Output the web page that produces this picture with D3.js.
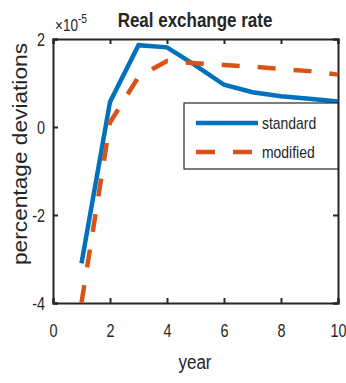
<!DOCTYPE html>
<html>
<head>
<meta charset="utf-8">
<script src="https://cdn.jsdelivr.net/npm/d3@7"></script>
<style>
  body { margin: 0; background: #fff; }
  text { font-family: "Liberation Sans", Arial, sans-serif; fill: #262626; }
</style>
</head>
<body>
<div class="chart"></div>
<script>
// data (values in units of 1e-5)
const years = [1, 2, 3, 4, 5, 6, 7, 8, 9, 10];
const standard = [-3.1, 0.57, 1.86, 1.81, 1.4, 0.96, 0.79, 0.7, 0.64, 0.58];
const modified = [-4.0, 0.1, 1.14, 1.5, 1.45, 1.41, 1.37, 1.32, 1.27, 1.19];
const xTicks = [0, 2, 4, 6, 8, 10];
const yTicks = [-4, -2, 0, 2];

// setup chart
const width = 346;
const height = 383;
const margin = { left: 53, right: 8, top: 39, bottom: 80 };
const svg = d3.select(".chart").append("svg").attr("width", width).attr("height", height);

const x = d3.scaleLinear().domain([0, 10]).range([margin.left, width - margin.right]);
const y = d3.scaleLinear().domain([-4, 2]).range([height - margin.bottom, margin.top]);

const axisColor = "#262626";

// squeeze horizontal text a bit (reference font is narrow)
function squash(sel, k) {
   sel.each(function () {
      const len = this.getComputedTextLength();
      d3.select(this).attr("textLength", len * k).attr("lengthAdjust", "spacingAndGlyphs");
   });
}

// axes (ticks inward)
const tick = -5;
const fmt = (d) => String(d);
svg.append("g").attr("transform", `translate(0,${y(-4)})`)
   .call(d3.axisBottom(x).tickValues(xTicks).tickSize(tick).tickFormat(fmt))
   .call(g => g.selectAll("text").attr("y", 34).attr("dy", 0));
svg.append("g").attr("transform", `translate(0,${y(2)})`)
   .call(d3.axisTop(x).tickValues(xTicks).tickSize(tick).tickFormat(""));
svg.append("g").attr("transform", `translate(${x(0)},0)`)
   .call(d3.axisLeft(y).tickValues(yTicks).tickSize(tick).tickPadding(8).tickFormat(fmt));
svg.append("g").attr("transform", `translate(${x(10)},0)`)
   .call(d3.axisRight(y).tickValues(yTicks).tickSize(tick).tickFormat(""));

svg.selectAll(".domain").attr("stroke", axisColor).attr("stroke-width", 2);
svg.selectAll(".tick line").attr("stroke", axisColor).attr("stroke-width", 2);
svg.selectAll(".tick text").style("font-size", "19px").attr("fill", axisColor)
   .call(squash, 0.76);

// lines
const line = d3.line().x((d, i) => x(years[i])).y(d => y(d));
const plot = svg.append("g");
plot.append("path").datum(standard)
   .attr("d", line).attr("fill", "none")
   .attr("stroke", "#0072BD").attr("stroke-width", 4.5);
plot.append("path").datum(modified)
   .attr("d", line).attr("fill", "none")
   .attr("stroke", "#D95319").attr("stroke-width", 4.5)
   .attr("stroke-dasharray", "18,18");

// legend
const legend = svg.append("g");
legend.append("rect").attr("x", 184).attr("y", 103).attr("width", x(10) - 184).attr("height", 66)
   .attr("fill", "#fff").attr("stroke", axisColor).attr("stroke-width", 1.2);
const items = [
   { name: "standard", color: "#0072BD", dash: null, y: 123 },
   { name: "modified", color: "#D95319", dash: "19,18", y: 152 }
];
items.forEach(it => {
   legend.append("line").attr("x1", 196).attr("x2", 258).attr("y1", it.y).attr("y2", it.y)
      .attr("stroke", it.color).attr("stroke-width", 4.5).attr("stroke-dasharray", it.dash);
   legend.append("text").attr("x", 262).attr("y", it.y).attr("dy", "0.35em")
      .style("font-size", "17px").text(it.name).call(squash, 0.82);
});

// title, exponent, labels
svg.append("text").attr("x", 195).attr("y", 27).attr("text-anchor", "middle")
   .style("font-size", "19.5px").style("font-weight", "bold").text("Real exchange rate")
   .call(squash, 0.87);
const ex = svg.append("text").attr("x", 55).attr("y", 31).style("font-size", "16.5px");
ex.append("tspan").text("\u00d710");
ex.append("tspan").attr("dy", -8).style("font-size", "12.5px").text("-5");
ex.call(squash, 0.82);
svg.append("text").attr("x", 195).attr("y", 369).attr("text-anchor", "middle")
   .style("font-size", "20px").text("year").call(squash, 0.85);
svg.append("text").attr("transform", `translate(27,154) rotate(-90)`)
   .attr("text-anchor", "middle").style("font-size", "20px")
   .attr("textLength", 222).attr("lengthAdjust", "spacingAndGlyphs")
   .text("percentage deviations");
</script>
</body>
</html>
